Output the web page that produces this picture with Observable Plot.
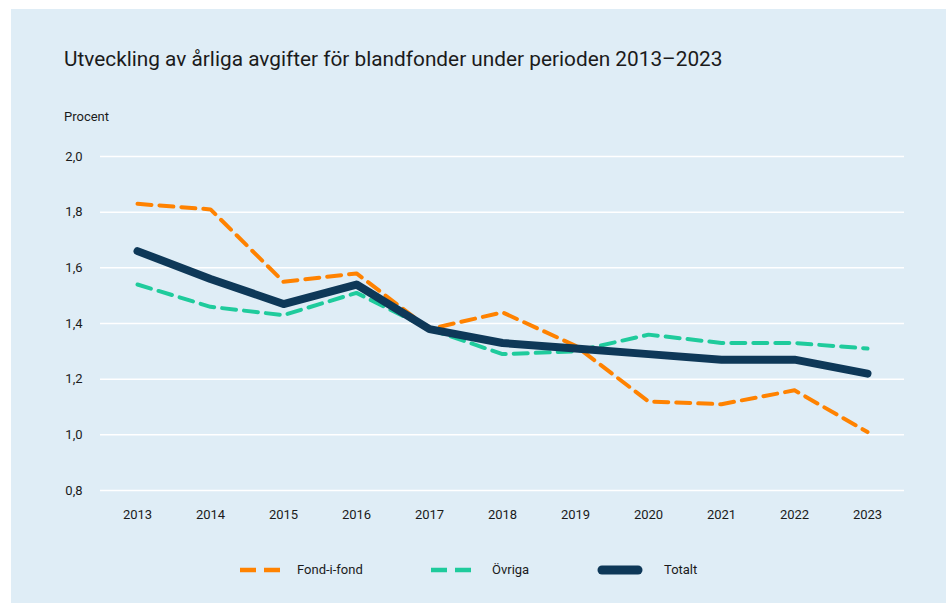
<!DOCTYPE html>
<html>
<head>
<meta charset="utf-8">
<script src="https://cdn.jsdelivr.net/npm/d3@7"></script>
<script src="https://cdn.jsdelivr.net/npm/@observablehq/plot@0.6"></script>
<style>
  body { margin: 0; background: #ffffff; font-family: Roboto, "DejaVu Sans", sans-serif; color: #1b1b1b; }
  #panel { position: absolute; left: 11px; top: 9px; width: 935px; height: 594px; background: #DFEDF6; }
  #title { position: absolute; left: 64px; top: 47px; font-size: 20.8px; line-height: 24px; white-space: nowrap; }
  #unit { position: absolute; left: 64px; top: 109px; font-size: 13px; line-height: 16px; }
  #chart { position: absolute; left: 0; top: 130px; }
  .leg { position: absolute; top: 562px; height: 16px; }
  .legtxt { position: absolute; top: 562px; font-size: 13px; line-height: 16px; }
</style>
</head>
<body>
<div id="panel"></div>
<div id="title">Utveckling av årliga avgifter för blandfonder under perioden 2013–2023</div>
<div id="unit">Procent</div>
<div id="chart"></div>
<div id="legend"></div>
<script>
const years = [2013, 2014, 2015, 2016, 2017, 2018, 2019, 2020, 2021, 2022, 2023];
const fondIFond = [1.83, 1.81, 1.55, 1.58, 1.38, 1.44, 1.32, 1.12, 1.11, 1.16, 1.01];
const ovriga    = [1.54, 1.46, 1.43, 1.51, 1.38, 1.29, 1.30, 1.36, 1.33, 1.33, 1.31];
const totalt    = [1.66, 1.56, 1.47, 1.54, 1.38, 1.33, 1.31, 1.29, 1.27, 1.27, 1.22];
const seriesNames = ["Fond-i-fond", "Övriga", "Totalt"];
const yTicks = [0.8, 1.0, 1.2, 1.4, 1.6, 1.8, 2.0];

const colors = {"Fond-i-fond": "#FF8200", "Övriga": "#1FCB9C", "Totalt": "#0E3858"};
const rows = (name, vals) => years.map((y, i) => ({year: y, value: vals[i], series: name}));
const dataF = rows("Fond-i-fond", fondIFond);
const dataO = rows("Övriga", ovriga);
const dataT = rows("Totalt", totalt);

const fmt = d3.format(".1f");
const chart = Plot.plot({
  width: 946,
  height: 410,
  marginLeft: 100,
  marginRight: 42,
  marginTop: 26,
  marginBottom: 50,
  style: {background: "transparent", fontFamily: "Roboto, 'DejaVu Sans', sans-serif", fontSize: "13px", color: "#1b1b1b"},
  x: {type: "point", domain: years, padding: 0.5, label: null, tickSize: 0, tickPadding: 19},
  y: {domain: [0.8, 2.0], ticks: yTicks, tickFormat: d => fmt(d).replace(".", ","), label: null, tickSize: 0, tickPadding: 18},
  marks: [
    Plot.gridY(yTicks, {stroke: "#ffffff", strokeOpacity: 1, strokeWidth: 1.5}),
    Plot.axisY(yTicks, {tickSize: 0, tickPadding: 18, tickFormat: d => fmt(d).replace(".", ","), label: null}),
    Plot.axisX(years, {tickSize: 0, tickPadding: 19, tickFormat: d => String(d), label: null}),
    Plot.line(dataF, {x: "year", y: "value", stroke: colors["Fond-i-fond"], strokeWidth: 4, strokeDasharray: "14,8", strokeLinejoin: "round"}),
    Plot.line(dataO, {x: "year", y: "value", stroke: colors["Övriga"], strokeWidth: 4, strokeDasharray: "14,8", strokeLinejoin: "round"}),
    Plot.line(dataT, {x: "year", y: "value", stroke: colors["Totalt"], strokeWidth: 8, strokeLinejoin: "round", strokeLinecap: "round"})
  ]
});
document.getElementById("chart").appendChild(chart);

// legend
const legend = document.getElementById("legend");
const legItems = [
  {name: seriesNames[0], x: 240, w: 42, tx: 297, dash: "16,8", sw: 4.5, cap: "butt"},
  {name: seriesNames[1], x: 431, w: 42, tx: 492, dash: "16,8", sw: 4.5, cap: "butt"},
  {name: seriesNames[2], x: 598, w: 44, tx: 664, dash: null, sw: 9, cap: "round"}
];
for (const it of legItems) {
  const s = d3.create("svg").attr("class", "leg").attr("width", it.w + 10).attr("height", 16)
    .style("left", (it.x - 5) + "px");
  s.append("line").attr("x1", 5 + (it.cap === "round" ? 4 : 0)).attr("x2", 5 + it.w - (it.cap === "round" ? 4 : 0))
    .attr("y1", 8).attr("y2", 8)
    .attr("stroke", colors[it.name]).attr("stroke-width", it.sw)
    .attr("stroke-linecap", it.cap)
    .attr("stroke-dasharray", it.dash);
  legend.appendChild(s.node());
  const t = document.createElement("div");
  t.className = "legtxt";
  t.style.left = it.tx + "px";
  t.textContent = it.name;
  legend.appendChild(t);
}
</script>
</body>
</html>
